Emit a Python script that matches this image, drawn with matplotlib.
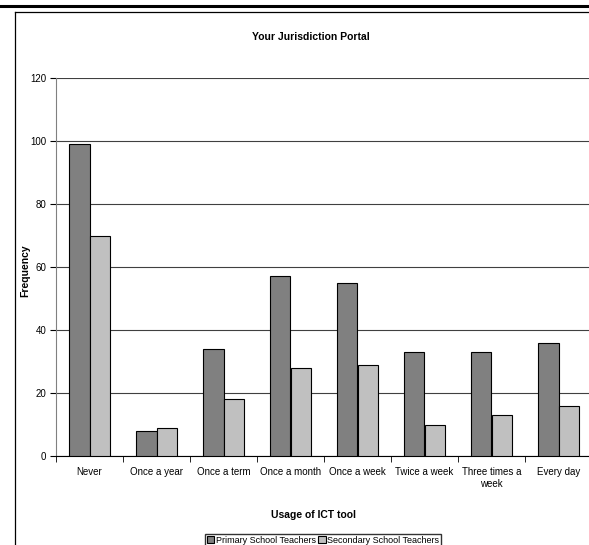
import numpy as np
import matplotlib.pyplot as plt
from matplotlib.lines import Line2D

categories = ["Never", "Once a year", "Once a term", "Once a month", "Once a week",
              "Twice a week", "Three times a\nweek", "Every day"]
primary = [99, 8, 34, 57, 55, 33, 33, 36]
secondary = [70, 9, 18, 28, 29, 10, 13, 16]
yticks = [0, 20, 40, 60, 80, 100, 120]

plt.rcParams['font.family'] = ['Liberation Sans', 'DejaVu Sans']

W, H = 589, 545
fig = plt.figure(figsize=(W / 100, H / 100), dpi=100)

# axes placed in pixel coordinates of the reference
left, right, top, bottom = 56, 592, 78, 456
ax = fig.add_axes([left / W, 1 - bottom / H, (right - left) / W, (bottom - top) / H])

x = np.arange(len(categories))
bw = 0.3
ax.bar(x - bw / 2, primary, bw, color='#808080', edgecolor='black', linewidth=0.8,
       label='Primary School Teachers', zorder=3)
ax.bar(x + bw / 2, secondary, bw, color='#c0c0c0', edgecolor='black', linewidth=0.8,
       label='Secondary School Teachers', zorder=3)

ax.set_xlim(-0.5, len(categories) - 0.5)
ax.set_ylim(0, 120)
ax.set_yticks(yticks)
ax.yaxis.grid(True, color='#404040', linewidth=0.8, zorder=0)
ax.set_axisbelow(True)

ax.set_xticks(x)
ax.set_xticklabels(categories, fontsize=7)
ax.tick_params(axis='x', length=0, pad=8)
ax.set_xticks(np.arange(-0.5, len(categories)), minor=True)
ax.tick_params(axis='x', which='minor', length=4, direction='out')
ax.tick_params(axis='y', length=4, labelsize=7, pad=3)

for s in ['top', 'right']:
    ax.spines[s].set_visible(False)
ax.spines['left'].set_color('#808080')
ax.spines['bottom'].set_color('black')

ax.set_title('Your Jurisdiction Portal', fontsize=7.5, fontweight='bold',
             x=0.475, y=1 + (78 - 40) / 378, pad=0)
ax.set_xlabel('Usage of ICT tool', fontsize=7.5, fontweight='bold')
ax.xaxis.set_label_coords(0.48, (456 - 510) / 378)
ax.set_ylabel('Frequency', fontsize=7.5, fontweight='bold')
ax.yaxis.set_label_coords((30 - 56) / 536, 0.49)

fig.legend(loc='lower center', bbox_to_anchor=(323 / W, -0.005), ncol=2, fontsize=6.5,
           frameon=True, fancybox=False, edgecolor='black', handlelength=0.8,
           handleheight=0.8, handletextpad=0.2, columnspacing=0.3,
           borderpad=0.2, borderaxespad=0.1)

# page frame lines
fig.add_artist(Line2D([0, 1], [1 - 6 / H, 1 - 6 / H], color='black', linewidth=2.2))
fig.add_artist(Line2D([15 / W, 1], [1 - 12 / H, 1 - 12 / H], color='black', linewidth=0.9))
fig.add_artist(Line2D([15 / W, 15 / W], [0, 1 - 12 / H], color='black', linewidth=0.9))

fig.savefig('out.png', dpi=100)
